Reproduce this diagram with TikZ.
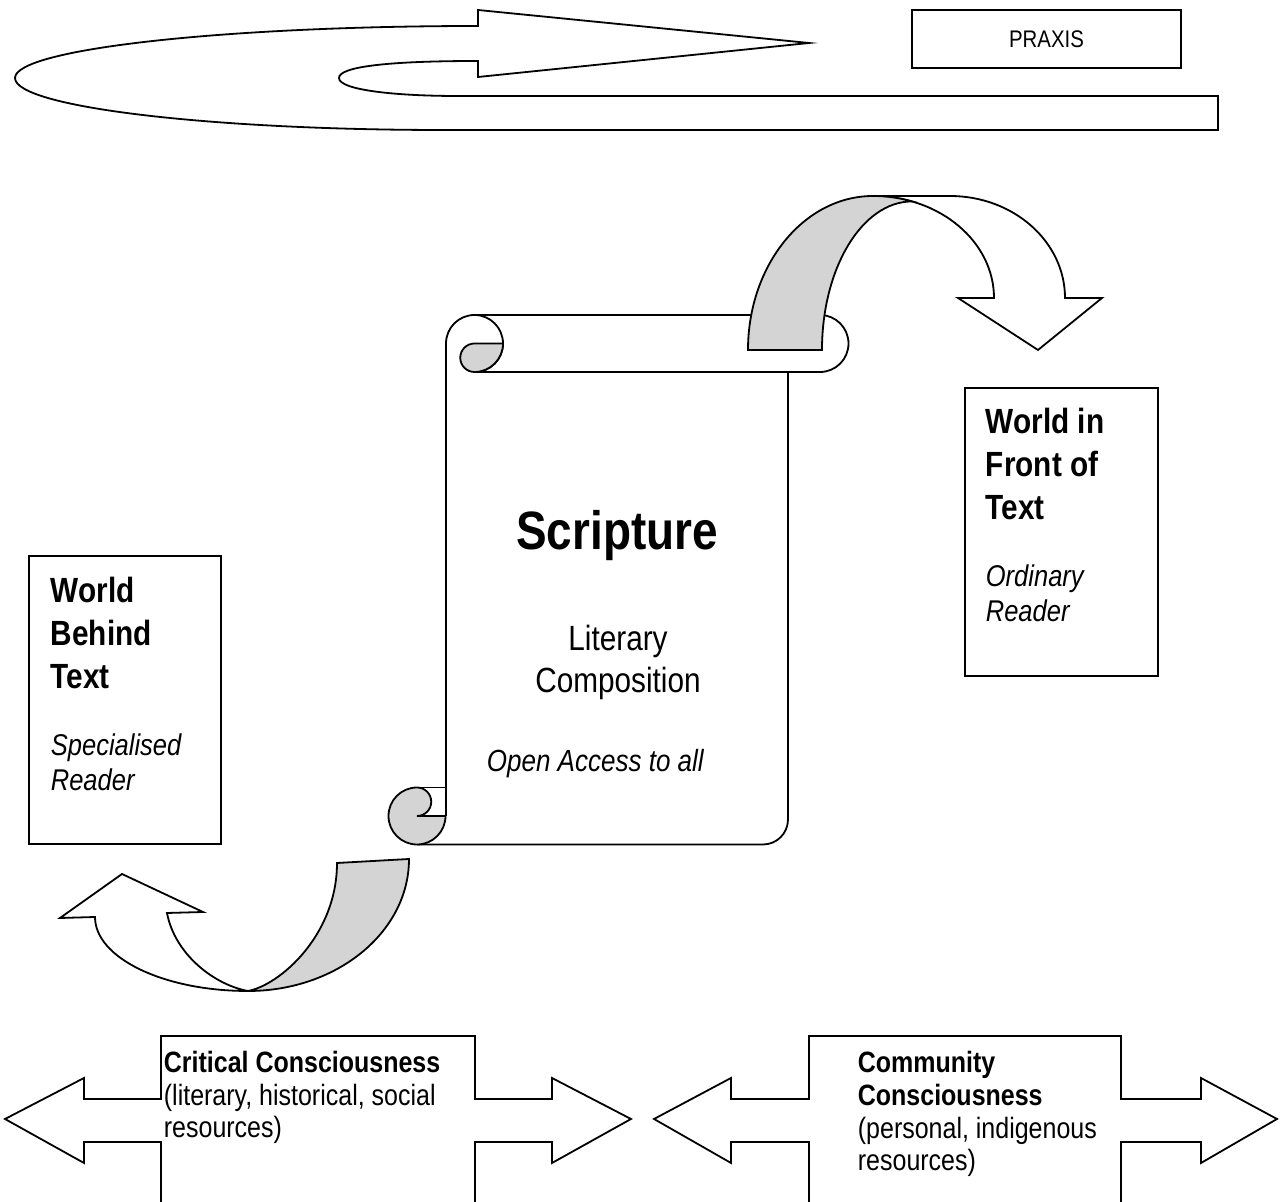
\documentclass[tikz,border=0pt]{standalone}
\usepackage{fontspec}
\setmainfont{Liberation Sans}[FakeStretch=0.85]
\definecolor{rollgray}{RGB}{212,212,212}

\begin{document}
\begin{tikzpicture}[x=0.5pt, y=-0.5pt, line width=0.9pt,
    outline/.style={draw=black, fill=white},
    backside/.style={draw=black, fill=rollgray},
    textbox/.style={draw=black, inner sep=0pt},
    boxtitle/.style={inner sep=0pt, anchor=north west, align=left, font=\bfseries\fontsize{17.5}{21.5}\selectfont},
    boxreader/.style={inner sep=0pt, anchor=north west, align=left, font=\itshape\fontsize{15}{17.5}\selectfont},
    cons/.style={inner sep=0pt, anchor=north west, align=left, font=\fontsize{14.7}{16.3}\selectfont}]
    \useasboundingbox (0,0) rectangle (1282,1202);

    % praxis loop
    \draw[outline] (1218,96) -- (458,96) .. controls (395,96) and (339,90) .. (339,78)
        .. controls (339,67) and (385,61) .. (478,61) -- (478,77) -- (809,43) -- (478,10) -- (478,26)
        .. controls (225,26) and (15,49) .. (15,78) .. controls (15,107) and (210,130) .. (443,130)
        -- (1218,130) -- cycle;
    \node[textbox, minimum width=134.5pt, minimum height=29pt, font=\fontsize{12}{14}\selectfont] (praxis) at (1046.5,39) {PRAXIS};

    % scroll
    \draw (474.5,315) -- (820,315) arc[start angle=-90, end angle=90, radius=28.5] -- (474.5,372);
    \draw (446,816) -- (446,343.5) arc[start angle=180, end angle=450, radius=28.5];
    \draw[backside] (474.5,343.5) -- (503,343.5) arc[start angle=0, end angle=90, radius=28.5]
        arc[start angle=90, end angle=270, radius=14.25] -- cycle;
    \draw (788,372) -- (788,819.5) arc[start angle=0, end angle=90, radius=25] -- (417,844.5);
    \draw (417,787.5) -- (446,787.5);
    \draw[backside] (417,787.5) arc[start angle=270, end angle=0, radius=28.5] -- (417,816)
        arc[start angle=90, end angle=-90, radius=14.25] -- cycle;

    % curved arrow to the front
    \draw[outline] (873,196) -- (950,196) arc[start angle=-90, end angle=0, x radius=115, y radius=102]
        -- (1102,298) -- (1038,350) -- (958,298) -- (994,298)
        arc[start angle=0, end angle=-90, x radius=121, y radius=102] -- cycle;
    \draw[backside] (748,350) arc[start angle=180, end angle=270, x radius=125, y radius=154]
        arc[start angle=-90, end angle=-71.2, x radius=121, y radius=102]
        arc[start angle=-90, end angle=-180, x radius=90, y radius=148.6] -- cycle;

    % curved arrow to the back
    \draw[outline] (248,991) arc[start angle=90, end angle=180, x radius=153, y radius=74]
        -- (60,918) -- (122,874) -- (203,912) -- (167,913)
        .. controls (175,955) and (215,985) .. (248,991);
    \draw[backside] (337,863) -- (409,859) .. controls (409,932) and (337,991) .. (248,991)
        .. controls (280,985) and (337,935) .. (337,863) -- cycle;

    \node[font=\bfseries\fontsize{27}{32}\selectfont, anchor=base, inner sep=0pt] (scripture) at (617,550) {Scripture};
    \node[font=\fontsize{17.5}{21}\selectfont, align=center, anchor=north, inner sep=0pt] (literary) at (618,624.5) {Literary\\Composition};
    \node[font=\itshape\fontsize{15.3}{17.5}\selectfont, anchor=base west, inner sep=0pt] (access) at (486,772) {Open Access to all};

    % worlds
    \node[textbox, minimum width=96pt, minimum height=144pt] (behind) at (125,700) {};
    \node[boxtitle] (behindtitle) at (50,576.5) {World\\Behind\\Text};
    \node[boxreader] (behindreader) at (50,733) {Specialised\\Reader};
    \node[textbox, minimum width=96.5pt, minimum height=144pt] (front) at (1061.5,532) {};
    \node[boxtitle] (fronttitle) at (985,407.5) {World in\\Front of\\Text};
    \node[boxreader] (frontreader) at (985,564) {Ordinary\\Reader};

    % consciousness
    \draw[outline] (161,1202) -- (161,1142) -- (84,1142) -- (84,1163) -- (5,1119) -- (84,1078) -- (84,1099)
        -- (161,1099) -- (161,1036) -- (475,1036) -- (475,1099) -- (552,1099) -- (552,1078) -- (631,1119)
        -- (552,1163) -- (552,1142) -- (475,1142) -- (475,1202);
    \node[cons] (critical) at (163,1050.6) {\textbf{Critical Consciousness}\\(literary, historical, social\\resources)};
    \draw[outline] (809,1202) -- (809,1142) -- (731,1142) -- (731,1163) -- (654,1119) -- (731,1078) -- (731,1099)
        -- (809,1099) -- (809,1036) -- (1121,1036) -- (1121,1099) -- (1201,1099) -- (1201,1078) -- (1277,1119)
        -- (1201,1163) -- (1201,1142) -- (1121,1142) -- (1121,1202);
    \node[cons] (community) at (857,1050.6) {\textbf{Community}\\\textbf{Consciousness}\\(personal, indigenous\\resources)};
\end{tikzpicture}
\end{document}
